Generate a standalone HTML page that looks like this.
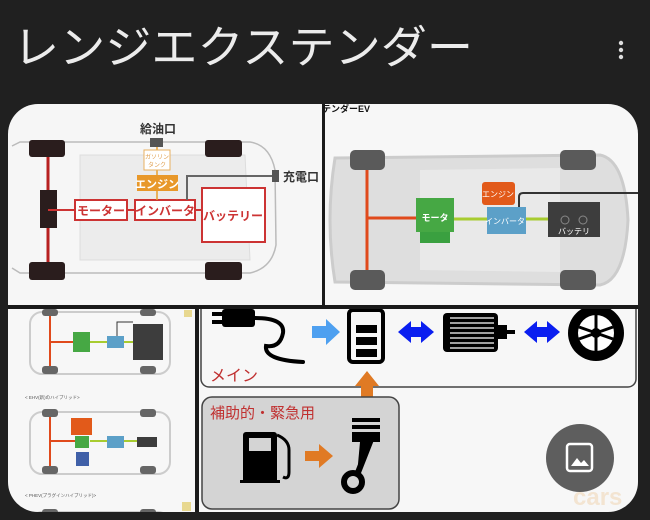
<!DOCTYPE html>
<html><head><meta charset="utf-8"><style>
html,body{margin:0;padding:0;background:#202020;width:650px;height:520px;overflow:hidden}
svg{display:block}
text{font-family:"Liberation Sans","Noto Sans CJK JP",sans-serif}
</style></head><body>
<svg width="650" height="520" viewBox="0 0 650 520">
<rect width="650" height="520" fill="#202020"/>
<text x="13" y="63" font-size="45" fill="#ececec" textLength="460" lengthAdjust="spacingAndGlyphs">レンジエクステンダー</text>
<circle cx="621" cy="43" r="2.2" fill="#ddd"/><circle cx="621" cy="50" r="2.2" fill="#ddd"/><circle cx="621" cy="57" r="2.2" fill="#ddd"/>
<defs><clipPath id="cc"><rect x="8" y="104" width="630" height="408" rx="30"/></clipPath>
<clipPath id="br"><rect x="199" y="309" width="439" height="203"/></clipPath></defs>
<g clip-path="url(#cc)">
<rect x="8" y="104" width="630" height="408" fill="#1a1a1a"/>
<!-- panel 1 -->
<rect x="8" y="104" width="314" height="201" fill="#f6f6f6"/>
<path d="M12 146 L20 142 L250 142 Q270 145 275 170 L276 245 Q272 268 250 273 L20 273 L12 268" fill="none" stroke="#bbb" stroke-width="1.5"/>
<path d="M80 155 L245 155 L250 260 L80 260 Z" fill="#ececec" stroke="#ddd"/>
<rect x="29" y="140" width="36" height="17" rx="3" fill="#2a1d1d"/>
<rect x="205" y="140" width="37" height="17" rx="3" fill="#2a1d1d"/>
<rect x="29" y="262" width="36" height="18" rx="3" fill="#2a1d1d"/>
<rect x="205" y="262" width="37" height="18" rx="3" fill="#2a1d1d"/>
<line x1="48" y1="157" x2="48" y2="262" stroke="#b72020" stroke-width="3"/>
<rect x="40" y="190" width="17" height="38" fill="#2a1d1d"/>
<line x1="48" y1="210" x2="75" y2="210" stroke="#c33" stroke-width="2"/>
<line x1="127" y1="210" x2="135" y2="210" stroke="#c33" stroke-width="2"/>
<line x1="195" y1="210" x2="202" y2="210" stroke="#c33" stroke-width="2"/>
<rect x="75" y="200" width="52" height="20" fill="#fff" stroke="#c33" stroke-width="2"/>
<text x="101" y="215" font-size="12" font-weight="bold" fill="#c33" text-anchor="middle">モーター</text>
<rect x="135" y="200" width="60" height="20" fill="#fff" stroke="#c33" stroke-width="2"/>
<text x="165" y="215" font-size="12" font-weight="bold" fill="#c33" text-anchor="middle">インバータ</text>
<rect x="202" y="188" width="63" height="54" fill="#fff" stroke="#c33" stroke-width="2"/>
<text x="233" y="220" font-size="12" font-weight="bold" fill="#c33" text-anchor="middle">バッテリー</text>
<text x="158" y="133" font-size="12" font-weight="bold" fill="#333" text-anchor="middle">給油口</text>
<rect x="150" y="138" width="13" height="9" fill="#555"/>
<line x1="157" y1="147" x2="157" y2="200" stroke="#e8a030" stroke-width="1.5"/>
<rect x="144" y="150" width="26" height="20" fill="#fff" stroke="#e8b060"/>
<text x="157" y="159" font-size="6" fill="#e0a050" text-anchor="middle">ガソリン</text>
<text x="157" y="167" font-size="6" fill="#e0a050" text-anchor="middle">タンク</text>
<rect x="137" y="175" width="41" height="16" fill="#e8982a"/>
<text x="157" y="188" font-size="11" font-weight="bold" fill="#fff" text-anchor="middle">エンジン</text>
<path d="M187 200 L187 176 L275 176" fill="none" stroke="#666" stroke-width="2"/>
<rect x="272" y="170" width="7" height="12" fill="#555"/>
<text x="283" y="181" font-size="12" font-weight="bold" fill="#333">充電口</text>
<!-- panel 2 -->
<rect x="325" y="104" width="313" height="201" fill="#f7f7f7"/>
<text x="322" y="112" font-size="9" font-weight="bold" fill="#111">テンダーEV</text>
<path d="M335 158 L600 155 Q625 160 628 220 Q625 280 600 285 L335 282 Q325 220 335 158Z" fill="#dedede" stroke="#ccc" stroke-width="3"/>
<path d="M420 170 L560 168 L560 272 L420 270 Z" fill="#e9e9e9"/>
<rect x="350" y="150" width="35" height="20" rx="5" fill="#5a5a5a"/>
<rect x="560" y="150" width="36" height="20" rx="5" fill="#5a5a5a"/>
<rect x="350" y="270" width="35" height="20" rx="5" fill="#5a5a5a"/>
<rect x="560" y="270" width="36" height="20" rx="5" fill="#5a5a5a"/>
<line x1="367" y1="170" x2="367" y2="270" stroke="#e04a1c" stroke-width="3"/>
<line x1="367" y1="218" x2="416" y2="218" stroke="#e04a1c" stroke-width="3"/>
<line x1="454" y1="219" x2="548" y2="219" stroke="#a8cc30" stroke-width="3"/>
<rect x="420" y="230" width="30" height="13" fill="#3aa040"/>
<rect x="416" y="198" width="38" height="34" fill="#46a844"/>
<text x="435" y="221" font-size="9" font-weight="bold" fill="#fff" text-anchor="middle">モータ</text>
<rect x="482" y="182" width="33" height="23" rx="3" fill="#e25a1a"/>
<text x="498" y="197" font-size="8" fill="#fff" text-anchor="middle">エンジン</text>
<path d="M519 207 L519 197 Q519 193 523 193 L640 193" fill="none" stroke="#333" stroke-width="2"/>
<rect x="487" y="207" width="39" height="27" fill="#5ca0c8"/>
<text x="505" y="224" font-size="8" fill="#fff" text-anchor="middle">インバータ</text>
<rect x="548" y="202" width="52" height="35" fill="#3d3d3d"/>
<circle cx="565" cy="220" r="4" fill="none" stroke="#888"/><circle cx="583" cy="220" r="4" fill="none" stroke="#888"/>
<text x="574" y="234" font-size="8" fill="#fff" text-anchor="middle">バッテリ</text>
<!-- bottom-left -->
<rect x="8" y="309" width="187" height="203" fill="#f7f7f7"/>
<g fill="none" stroke="#ccc" stroke-width="2"><rect x="30" y="312" width="140" height="62" rx="12"/><rect x="30" y="412" width="140" height="62" rx="12"/><rect x="30" y="512" width="140" height="62" rx="12"/></g>
<g fill="#666"><rect x="42" y="309" width="16" height="7" rx="3"/><rect x="140" y="309" width="16" height="7" rx="3"/><rect x="42" y="366" width="16" height="8" rx="3"/><rect x="140" y="366" width="16" height="8" rx="3"/>
<rect x="42" y="409" width="16" height="8" rx="3"/><rect x="140" y="409" width="16" height="8" rx="3"/><rect x="42" y="466" width="16" height="8" rx="3"/><rect x="140" y="466" width="16" height="8" rx="3"/>
<rect x="42" y="509" width="16" height="8" rx="3"/><rect x="140" y="509" width="16" height="8" rx="3"/></g>
<path d="M50 316 V366 M50 342 H73 M50 417 V466 M50 441 H76" stroke="#e04a1c" stroke-width="2"/>
<path d="M90 342 H133 M90 441 H137" stroke="#a8cc30" stroke-width="2"/>
<rect x="73" y="332" width="17" height="20" fill="#46a844"/>
<rect x="107" y="336" width="17" height="12" fill="#5ca0c8"/>
<rect x="133" y="324" width="30" height="36" fill="#3d3d3d"/>
<path d="M117 336 V322 H133" stroke="#333" fill="none"/>
<rect x="184" y="310" width="8" height="7" fill="#e8d890"/>
<text x="25" y="399" font-size="4.5" fill="#555">&lt; EHV(新)のハイブリッド&gt;</text>
<rect x="71" y="418" width="21" height="17" fill="#e25a1a"/>
<rect x="75" y="436" width="14" height="12" fill="#46a844"/>
<rect x="76" y="452" width="13" height="14" fill="#4060a8"/>
<rect x="107" y="436" width="17" height="12" fill="#5ca0c8"/>
<rect x="137" y="437" width="20" height="10" fill="#3d3d3d"/>
<text x="25" y="497" font-size="4.5" fill="#555">&lt; PHEV(プラグインハイブリッド)&gt;</text>
<rect x="182" y="502" width="9" height="9" fill="#e8d890"/>
<!-- bottom-right -->
<rect x="199" y="309" width="439" height="203" fill="#f7f7f7"/>
<g clip-path="url(#br)">
<rect x="201" y="290" width="435" height="97" rx="8" fill="none" stroke="#444" stroke-width="1.5"/>
</g>
<g stroke="#000" fill="none" stroke-width="4" stroke-linecap="round"><path d="M255 318 Q285 318 283 333 Q280 348 266 346 Q264 360 303 362"/></g>
<rect x="222" y="309" width="33" height="18" rx="3" fill="#000"/>
<rect x="212" y="312" width="12" height="4" fill="#000"/><rect x="212" y="320" width="12" height="4" fill="#000"/>
<path d="M312 326 H326 V319 L340 332 L326 345 V338 H312Z" fill="#4ea0f0"/>
<rect x="349" y="310" width="34" height="52" rx="4" fill="none" stroke="#000" stroke-width="4"/>
<rect x="356" y="325" width="21" height="8" fill="#000"/><rect x="356" y="337" width="21" height="8" fill="#000"/><rect x="356" y="349" width="21" height="8" fill="#000"/>
<path d="M398 332 L411 321 V327 H421 V321 L434 332 L421 343 V337 H411 V343Z" fill="#0a1ef0"/>
<rect x="443" y="313" width="55" height="39" rx="4" fill="#000"/>
<g stroke="#fff" stroke-width="1.3"><line x1="450" y1="318" x2="494" y2="318"/><line x1="450" y1="323" x2="494" y2="323"/><line x1="450" y1="328" x2="494" y2="328"/><line x1="450" y1="333" x2="494" y2="333"/><line x1="450" y1="338" x2="494" y2="338"/><line x1="450" y1="343" x2="494" y2="343"/><line x1="450" y1="348" x2="494" y2="348"/></g>
<rect x="498" y="325" width="9" height="14" fill="#000"/><rect x="507" y="330" width="8" height="4" fill="#000"/>
<path d="M524 332 L537 321 V327 H547 V321 L560 332 L547 343 V337 H537 V343Z" fill="#0a1ef0"/>
<circle cx="596" cy="333" r="28" fill="#000"/><circle cx="596" cy="333" r="18" fill="#fff"/><circle cx="596" cy="333" r="5" fill="#000"/>
<g stroke="#000" stroke-width="3"><line x1="596" y1="315" x2="596" y2="351"/><line x1="579" y1="327" x2="613" y2="339"/><line x1="613" y1="327" x2="579" y2="339"/></g>
<text x="210" y="381" font-size="16" fill="#c03030">メイン</text>
<path d="M361 410 V386 H355 L367 371 L379 386 H373 V410Z" fill="#e07a24"/>
<rect x="202" y="397" width="197" height="112" rx="10" fill="#d4d4d4" stroke="#444" stroke-width="1.5"/>
<text x="210" y="418" font-size="15" fill="#c03030">補助的・緊急用</text>
<rect x="243" y="432" width="34" height="51" rx="3" fill="#000"/><rect x="249" y="438" width="22" height="13" fill="#d4d4d4"/>
<rect x="240" y="480" width="40" height="3" fill="#000"/>
<path d="M277 435 Q289 440 289 450 V472 Q289 480 283 477" stroke="#000" stroke-width="3" fill="none"/>
<path d="M305 451 H319 V444 L333 456 L319 468 V461 H305Z" fill="#e07a24"/>
<rect x="352" y="418" width="28" height="4" fill="#000"/><rect x="352" y="425" width="28" height="4" fill="#000"/><rect x="352" y="432" width="28" height="10" fill="#000"/>
<path d="M360 442 L370 442 L357 475" stroke="#000" stroke-width="6"/>
<circle cx="353" cy="482" r="9" fill="none" stroke="#000" stroke-width="6"/>
<circle cx="580" cy="458" r="34" fill="#5e5e5e"/>
<rect x="567" y="444" width="25" height="27" rx="3" fill="none" stroke="#fff" stroke-width="2.5"/>
<path d="M571 466 L577 458 L581 463 L584 460 L589 466Z" fill="#fff"/>
<text x="573" y="505" font-size="24" font-weight="bold" fill="#f0d8b8" opacity="0.6">cars</text>
</g>
<!-- dividers -->
<rect x="322" y="104" width="3" height="201" fill="#1a1a1a"/>
<rect x="8" y="305" width="630" height="4" fill="#1a1a1a"/>
<rect x="195" y="309" width="4" height="203" fill="#1a1a1a"/>
</svg>
</body></html>
